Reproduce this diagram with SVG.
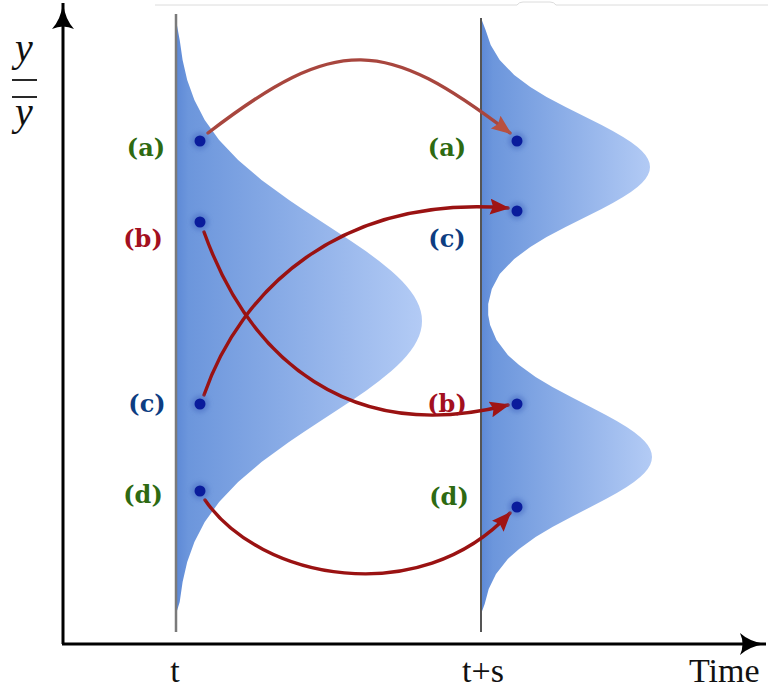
<svg xmlns="http://www.w3.org/2000/svg" width="768" height="689" viewBox="0 0 768 689">
<style>
.lbl{font-family:"DejaVu Serif","Liberation Serif",serif;font-weight:bold;font-size:24px;text-anchor:middle}
.g{fill:#2e6a12}.r{fill:#a3101f}.b{fill:#0d3d82}
.ax{font-family:"Liberation Serif","Times New Roman",serif;font-size:34px;fill:#111}
.my{font-family:"Liberation Serif",serif;font-style:italic;font-size:40px;fill:#111;text-anchor:middle}
.dot{fill:#0a1c9c}
.halo{fill:#4a6ec4;opacity:0.55;filter:url(#blur)}
.conn{fill:none;stroke:#9a1212;stroke-width:3.4;stroke-linecap:round}
</style>
<defs>
<linearGradient id="gl" gradientUnits="userSpaceOnUse" x1="176" y1="0" x2="422" y2="0">
<stop offset="0" stop-color="#5d89d6"/><stop offset="0.05" stop-color="#6c96dc"/><stop offset="1" stop-color="#b3cbf5"/>
</linearGradient>
<linearGradient id="gr" gradientUnits="userSpaceOnUse" x1="481" y1="0" x2="652" y2="0">
<stop offset="0" stop-color="#5d89d6"/><stop offset="0.07" stop-color="#6c96dc"/><stop offset="1" stop-color="#b3cbf5"/>
</linearGradient>
<filter id="blur" x="-50%" y="-50%" width="200%" height="200%"><feGaussianBlur stdDeviation="2"/></filter>
<marker id="ah" markerUnits="userSpaceOnUse" markerWidth="22" markerHeight="18" refX="18" refY="8" orient="auto">
<path d="M0,0 L20,8 L0,16 L3,8 z" fill="#a01414"/>
</marker>
<marker id="ah2" markerUnits="userSpaceOnUse" markerWidth="22" markerHeight="18" refX="18" refY="8" orient="auto">
<path d="M0,0 L20,8 L0,16 L3,8 z" fill="#b8503f"/>
</marker>
<marker id="axh" markerUnits="userSpaceOnUse" markerWidth="30" markerHeight="24" refX="26" refY="11" orient="auto">
<path d="M0,0 Q10,9 26,11 Q10,13 0,22 Q5,11 0,0 z" fill="#000"/>
</marker>
</defs>

<g id="frame">
<path d="M155,5 H517 Q519,2 523,2 H550 Q554,2 556,5 H768" fill="none" stroke="#dcdcdc" stroke-width="1"/>
</g>

<g id="dist-t">
<path fill="url(#gl)" d="M176,20 L179.7,40 L182.6,60 L187.2,80 L194.4,100 L204.7,120 L219.1,140 L238.1,160 L261.5,180 L289,200 L303.8,210 L320.5,221 L335.8,231 L351,241 L365.7,251 L379.1,261 L391.4,271 L396.9,276 L402,281 L406.5,286 L410.5,291 L414,296 L416.8,301 L419.1,306 L420.7,311 L421.7,316 L422,321 L421.7,326 L420.7,331 L419.1,336 L416.8,341 L414,346 L410.5,351 L406.5,356 L402,361 L396.9,366 L391.4,371 L379.1,381 L365.7,391 L351,401 L335.8,411 L320.5,421 L303.8,432 L289,442 L261.5,462 L238.1,482 L219.1,502 L204.7,522 L194.4,542 L187.2,562 L182.6,582 L179.7,602 L176,614 Z"/>
<line x1="176" y1="14" x2="176" y2="632" stroke="#7a7a7a" stroke-width="2.5"/>
</g>

<g id="dist-ts">
<path fill="url(#gr)" d="M481,18 L485.6,30 L490.7,45 L499.7,60 L514.2,75 L530.3,87 L546.6,97 L565.6,107 L585.6,117 L601.6,125 L612.8,131 L623.1,137 L630.9,142 L637.5,147 L641.9,151 L645.4,155 L647.9,159 L649.5,163 L650,167 L649.5,171 L647.9,175 L645.4,179 L641.9,183 L637.5,187 L630.9,192 L623.1,197 L612.8,203 L601.6,209 L585.6,217 L565.6,227 L546.6,237 L530.3,247 L514.2,259 L499.7,274 L491.8,289 L488.2,304 L488.2,315 L490.1,325 L496.5,340 L507.8,355 L519.1,365 L535.6,377 L552.4,387 L571.2,397 L590.6,407 L605.9,415 L616.8,421 L626.7,427 L634,432 L640.2,437 L644.4,441 L647.7,445 L650.1,449 L651.5,453 L652,457 L651.5,461 L650.1,465 L647.7,469 L644.4,473 L640.2,477 L634,482 L626.7,487 L616.8,493 L605.9,499 L590.6,507 L571.2,517 L552.4,527 L535.6,537 L519.1,549 L507.8,559 L496,574 L488.7,589 L484.7,604 L481,614 Z"/>
<line x1="481" y1="18" x2="481" y2="632" stroke="#555" stroke-width="2"/>
</g>

<g id="axes">
<line x1="63" y1="644" x2="63" y2="3" stroke="#000" stroke-width="3" marker-end="url(#axh)"/>
<line x1="62" y1="644" x2="766" y2="644" stroke="#000" stroke-width="3" marker-end="url(#axh)"/>
<text class="my" x="24" y="61">y</text>
<line x1="12" y1="80" x2="37" y2="80" stroke="#111" stroke-width="1.8"/>
<line x1="12" y1="97" x2="37" y2="97" stroke="#111" stroke-width="1.8"/>
<text class="my" x="24" y="125">y</text>
<text class="ax" x="175" y="682" text-anchor="middle">t</text>
<text class="ax" x="483" y="682" text-anchor="middle">t+s</text>
<text class="ax" x="689" y="682">Time</text>
</g>

<g id="connectors">
<path class="conn" d="M208,133 C338,33 385,38 510,133" style="stroke:#a8463e" marker-end="url(#ah2)"/>
<path class="conn" d="M204,232 C250,360 350,445 508,405" marker-end="url(#ah)"/>
<path class="conn" d="M204,395 C240,290 340,195 508,208" marker-end="url(#ah)"/>
<path class="conn" d="M205,500 C260,580 420,610 510,513" marker-end="url(#ah)"/>
</g>

<g id="node-t-a"><circle class="halo" cx="200" cy="141" r="9"/><circle class="dot" cx="200" cy="141" r="5.5"/><text class="lbl g" x="146" y="156">(a)</text></g>
<g id="node-t-b"><circle class="halo" cx="200" cy="222" r="9"/><circle class="dot" cx="200" cy="222" r="5.5"/><text class="lbl r" x="143" y="247">(b)</text></g>
<g id="node-t-c"><circle class="halo" cx="200" cy="404" r="9"/><circle class="dot" cx="200" cy="404" r="5.5"/><text class="lbl b" x="147" y="412">(c)</text></g>
<g id="node-t-d"><circle class="halo" cx="200" cy="491" r="9"/><circle class="dot" cx="200" cy="491" r="5.5"/><text class="lbl g" x="143" y="503">(d)</text></g>
<g id="node-ts-a"><circle class="halo" cx="517" cy="141" r="9"/><circle class="dot" cx="517" cy="141" r="5.5"/><text class="lbl g" x="447" y="156">(a)</text></g>
<g id="node-ts-c"><circle class="halo" cx="517" cy="211" r="9"/><circle class="dot" cx="517" cy="211" r="5.5"/><text class="lbl b" x="447" y="247">(c)</text></g>
<g id="node-ts-b"><circle class="halo" cx="517" cy="404" r="9"/><circle class="dot" cx="517" cy="404" r="5.5"/><text class="lbl r" x="447" y="412">(b)</text></g>
<g id="node-ts-d"><circle class="halo" cx="517" cy="507" r="9"/><circle class="dot" cx="517" cy="507" r="5.5"/><text class="lbl g" x="449" y="505">(d)</text></g>
</svg>
